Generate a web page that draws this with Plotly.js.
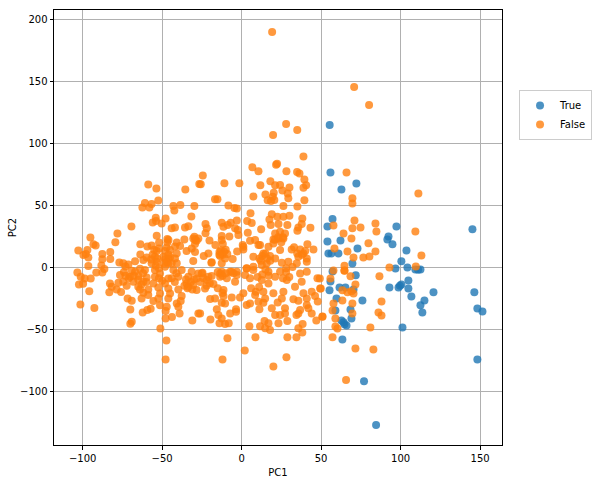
<!DOCTYPE html>
<html><head><meta charset="utf-8">
<script src="https://cdn.plot.ly/plotly-3.0.1.min.js"></script>
<style>html,body{margin:0;padding:0;background:#fff}</style></head>
<body><div id="chart" style="width:598px;height:483px"></div>
<script>
const seriesNames = ["True","False"];
const truePoints = [[55.4,114.5],[77,-92],[84.6,-127.4],[55.9,76.3],[72.2,67.4],[62.8,62.6],[57.2,38.7],[54,32.8],[97.4,32.8],[145.2,30.4],[54,20.7],[62.2,21.5],[92.4,24.7],[91.7,22.3],[94.9,18.3],[103.7,13.4],[72.9,15],[54.6,11],[56.5,11],[60.9,11],[100.5,4.6],[69.7,2.9],[96.8,-1.1],[104.3,-0.3],[109.3,-1.9],[112.5,-1.9],[111,-2.2],[57.2,-3.5],[71.8,-6.7],[55.9,-11.6],[104.9,-10.8],[93,-16.4],[98.7,-16.4],[100.5,-14],[99.6,-15],[104.9,-17.2],[55.3,-18.8],[61.6,-16.4],[65.3,-16.4],[70.4,-18],[120.7,-20.4],[146.4,-20.4],[106.8,-23.7],[59.7,-25.3],[76,-26.9],[115,-26.9],[112.5,-30.9],[148.3,-33.4],[151.5,-35.8],[113.7,-36.6],[68.5,-34.2],[59,-35],[69.1,-41.4],[62.8,-43],[64.1,-44.6],[66,-47.1],[64.7,-46.2],[63.4,-58.4],[101.2,-48.7],[148.3,-74.5]];
const falsePoints = [[19.2,189.5],[28,115.3],[35,110.5],[19.8,106.5],[70.8,145.2],[80.2,130.6],
[-58.7,66.6],[-53.6,63.4],[-35.4,62.6],[-26.6,66.9],[-52.4,53.7],[-60.8,51.6],[-62.4,48.1],[-58,48.1],[-56.6,50.8],[-42.9,49.2],[-38.5,50],[-42.3,45.7],[-29.7,49.2],[-31.6,40.8],[-54,39.8],[-47.8,39.2],[-55.9,36],[-53.8,37.2],[-50.3,35.2],[-69.3,32.8],[-78.1,27.1],[-79.4,20.1],[-95.1,23.9],[-93.2,18.3],[-91.8,17.4],[-102.7,13.4],[-97,13.7],[-99.5,9.7],[-96.4,7.8],[-98,10.5],[-87.6,10.5],[-82.6,12.1],[-87.6,6.2],[-82.6,6.4],[-76.9,3.7],[-96.4,0.8],[-88.2,1.3],[-86.3,-1.6],[-87.6,-4.3],[-91.4,-4.3],[-103.3,-4.3],[-101.2,-7.8],[-98.7,-9.2],[-94.9,-9.2],[-99.7,-13.5],[-102.3,-14],[-95.8,-19.6],[-101.4,-30.1],[-92.6,-33.1],
[-53.4,25.2],[-46.7,22.6],[-46.7,19.9],[-63.7,18.3],[-59.3,16.6],[-56.6,17.4],[-51.9,19.9],[-40.8,19.9],[-36,22.3],[-30.4,23.1],[-28.3,21.2],[-29.3,18.5],[-41.9,16.6],[-47.1,15.8],[-38.7,16.9],[-53.4,12.9],[-63.7,10.2],[-48.2,12.9],[-45,13.7],[-34.6,12.9],[-31.4,15],[-29.3,12.1],[-40.8,11],[-59.7,7.8],[-54.5,8.3],[-49.2,8.3],[-46.1,7],[-41.9,7],[-53.4,4.3],[-56.6,3],[-61.8,5.6],[-67,4.6],[-74.4,3],[-71.2,2.1],[-46.1,2.9],[-40.8,3],[-30.4,4.8],[-48.2,0.2],[-63.9,-1.4],[-73,0.5],[-67,-3.8],[-60.8,-2.4],[-54.5,-2.4],[-51.3,-5.1],[-42.9,-2.4],[-37.7,-2.4],[-31.4,-3.8],[-27.2,-5.1],[-76.5,-6.5],[-70.2,-7.8],[-64.9,-7.3],[-59.7,-8.4],[-54.5,-7.8],[-46.1,-9.2],[-39.8,-7.8],[-33.5,-7.8],[-28.3,-9.2],[-82.8,-13.2],[-77.5,-12.7],[-74.4,-11.8],[-68.1,-11.8],[-61.8,-11.8],[-55.5,-13.2],[-48.2,-13.2],[-42,-12],[-34.6,-13.2],[-30.4,-14.5],[-81.7,-15.9],[-78.6,-18],[-72.3,-15.1],[-65,-15.9],[-63.9,-18],[-58.7,-18],[-52.4,-16.4],[-46.1,-17.2],[-39.8,-18],[-33.5,-15.9],[-28.3,-18.6],[-83.2,-20.4],[-75.8,-20.2],[-61.8,-20.7],[-58.7,-22.6],[-51.3,-21.3],[-45,-21.3],[-37.7,-23.4],[-71.7,-25.3],[-69.1,-27.2],[-62.9,-25.3],[-55.5,-27.4],[-52.4,-25.3],[-46.1,-25.3],[-40.8,-29.3],[-38.3,-27.4],[-51.3,-30.7],[-47.1,-32],[-39.8,-32],[-70,-34.2],[-62.2,-36.6],[-59.3,-34.7],[-57.2,-33.6],[-47.8,-35.5],[-39,-37.4],[-27.2,-37.4],[-43.8,-40.3],[-47.8,-41.4],[-31,-43],[-69.1,-44.1],[-70,-45.7],[-51.1,-49.5],[-47.3,-59.2],[-47.8,-74.5],[-41.9,32],[-44,31.2],[-35.6,32],[-33.5,33],[-29.7,24.5],[-27.2,23],
[38.9,89.2],[22.3,83.3],[21.7,82.5],[6.8,80.4],[10.6,77.2],[28.2,77.2],[34.9,76.6],[36.4,75.5],[39.5,70.7],[18.1,69.1],[11.8,65.9],[21.1,65.9],[24.2,66.1],[30.1,64.2],[40.6,65.9],[38.9,64],[25.7,61.8],[29,59.4],[20.2,60],[15,58.6],[19.6,56.7],[7.4,57],[29.4,55.4],[20.6,54],[16.4,53.8],[18.5,53.2],[26.3,49.2],[39.5,53.8],[35.1,48.9],[-24.4,73.9],[-25.7,66.7],[-10.8,67.5],[-1.4,67.5],[-16.7,54.6],[-15.2,54.6],[-8.3,49.7],[-4.5,47.6],[-3,47.3],[5.6,43.3],[19,42.5],[17.5,38.4],[22.5,40.6],[26.3,40.6],[30.1,41.4],[38.2,39.2],[3.5,37.1],[6.4,35.5],[-22.7,34.7],[-21.9,31.2],[-22.7,27.2],[-12.5,35.8],[-11.4,32.5],[-6.8,35.8],[-3,37.6],[-8.7,33.9],[-4.1,31.2],[-2.4,29.9],[-2,25.8],[3.9,27.7],[12.3,30.4],[18.3,33.9],[23.2,34.7],[28.8,33.9],[35.7,32],[37.8,34.7],[43.3,31.7],[35.1,29.3],[21.1,27.1],[24.2,28.5],[27.3,27.1],[20,22.3],[23.2,23.1],[26.3,23.1],[-12.5,25],[-7.7,24.7],[-12.5,21.8],[-20.2,21.5],[-16.5,17.7],[-11.8,18.5],[5.3,21.2],[8.5,21.8],[11.6,17.7],[0.7,17.7],[1.1,14.2],[-2.8,12.6],[-5.6,6.5],[45.2,14.2],[41.4,18.3],[36.8,14.2],[31.5,14.2],[24.2,13.7],[16.9,16.4],[13.7,11],[17.9,8.9],[11.2,7],[7.4,8.4],[-20.9,11],[-23.8,8.9],[-18.8,3.8],[-13.9,12.4],[-11,12.4],[-13.5,8.9],[-10.4,7],[-12.5,3],[21.1,7],[35.7,8.4],[38.9,11],[29.4,4.3],[34.7,3],[41,4.3],[25.3,3.5],[15.8,2.9],[12.7,1.6],[3.2,-1.1],[7.4,0.3],[-24.6,-4.6],[-13.5,-5.1],[-6.2,-3.8],[-3,-6.4],
[-19,3.5],[-12.5,-3.8],[-7.2,-3.8],[-3,-3.8],[7.4,-2.4],[16.9,-3.8],[24.2,-3.8],[36.8,-5.1],[41,-3.8],[47.7,-9.1],[-25,-5.1],[-21.9,-10.5],[-18.8,-7.2],[-17.7,-13.7],[-13.5,-7.8],[-9.3,-9.1],[-4.1,-11.8],[2.2,-6.5],[5.3,-9.1],[12.7,-10.5],[16.9,-13.2],[21.1,-7.8],[28.4,-10.5],[33.6,-15.9],[37.8,-11.8],[-23,-17.2],[-11.4,-18.5],[-19.8,-25.8],[-16.7,-25.3],[-11.4,-23.4],[-6.2,-24.5],[1.1,-21.2],[-1,-24.5],[8.5,-22.6],[13.7,-19.9],[14.8,-25.3],[20,-21.2],[26.3,-19.9],[25.3,-25.3],[38.9,-21.2],[44.1,-19.9],[46.2,-23.4],[49.4,-17.2],[32.6,-26],[35.7,-27.1],[41,-25.3],[47.9,-27.7],[-12.5,-28.8],[-10.4,-29.3],[3.2,-30.6],[5.3,-29.3],[10.6,-28],[13.7,-28.8],[22.7,-28.5],[19,-33.3],[11.2,-34.1],[-15.6,-34.1],[27.3,-33.3],[41,-30.6],[42,-33.3],[36.8,-34.7],[44.1,-37.4],[35.7,-37.4],[50.8,-40.1],[47,-43],[34.5,-38.7],[-3.5,-34.1],[-3.5,-36],[-7.2,-37.4],[-14.6,-38.7],[-12.5,-41.4],[-26.1,-37.4],[-19.6,-42.2],[-13.9,-45.4],[-10.4,-46],[-8.1,-45.4],[4.9,-47.8],[14.4,-43.5],[16.9,-45.4],[11.6,-47.8],[14.8,-49.4],[17.9,-50.8],[23.2,-45.4],[21.1,-38.7],[24.2,-38.7],[27.3,-37.4],[28.8,-43.5],[35.7,-49.4],[38.4,-46],[38.2,-52.7],[-8.9,-57.5],[8.7,-56.7],[28.8,-56.7],[34.5,-56.7],[2,-67.2],[-12,-74.5],[28.2,-72.8],[20,-80.1],
[66,76.3],[111.2,59.4],[69.7,55.4],[69.7,51.3],[71,37.6],[57.8,33.6],[69.7,31.2],[74.8,32],[84.2,35.2],[84.8,28.7],[109.3,28.7],[64.1,27.1],[69.1,23.1],[79.8,19.1],[58.4,15],[66.6,12.6],[84.2,12.6],[113.1,9.4],[70.4,7.8],[76.6,7.8],[80.4,8.6],[93,-0.3],[109.6,0.5],[64.7,1.1],[64.7,-2.7],[64.7,-3],[57.8,-2.7],[68.5,-7.5],[86.7,-7.5],[55.9,-9.2],[49.2,-9.2],[71.6,-14],[49.8,-17.2],[63.4,-18.8],[66.6,-20.4],[69.1,-19.6],[70.4,-21.3],[63.4,-26.9],[57.8,-29.3],[69.7,-29.3],[88,-27.7],[57.2,-35],[86.1,-36.6],[88,-39],[69.7,-37.4],[50.9,-39.8],[59,-41.4],[59,-47.9],[60.3,-49.5],[81,-48.7],[57.2,-56.7],[71.6,-65.6],[82.9,-66.4],[65.7,-91],
[-13,13.5],[-10,14],[-12,10],[-9,10.5],[-14,10],[13,9],[16,7],[15,11],[18,5],[12,5],[21,22],[25,20],[23,24],[20,19],[26,24],[35,11],[38,10],[33,16],[40,13],[41,7],[-15,-4],[-12,-7],[-10,-5],[-5.1,-5],[13,-6],[17,-7],[15,-2],[10,-8],[6,-17],[9,-20],[11,-16],[-24,-9],[-20,-13],[-22,-15],[-26,-12],[28,-4],[30,-8],[26,-9],[-15,-17],[-12,-21],[1.1,16.4],[10.6,17.7],[32,0],[28,-1],[3.2,-1],
[-47,4],[-45,8],[-48,6.5],[-44,3],[-46,10],[-49,3],[-53,7],[-57,6],[-54,1],[-52,-1],[-56,10],[-55,14],[-52,15],[-74,-4],[-71,-9],[-73,-7],[-69,-3],[-68,-7],[-62,-5],[-65,-10],[-60,-12],[-63,-14],[-44,-9],[-41,-5],[-35,-10],[-32,-12],[-36,-15],[-30,-10],[-34,-17],[-31,-18],[-50,-11],[-52,-9],[-20.9,-7.8],[-29.2,21.8],[-46,21.8]];
const xTicks = [-100,-50,0,50,100,150];
const yTicks = [-100,-50,0,50,100,150,200];
const xLabels = ["\u2212100","\u221250","0","50","100","150"];
const yLabels = ["\u2212100","\u221250","0","50","100","150","200"];
const colors = ["#1f77b4","#ff7f0e"];
const mk = (name,pts,c)=>({type:"scatter",mode:"markers",name,x:pts.map(p=>p[0]),y:pts.map(p=>p[1]),
  marker:{color:c,size:8,opacity:0.8,line:{width:0}}});
const axis = (text,vals,labs,range,standoff)=>({title:{text,font:{size:10,color:"#000"},standoff},range,tickmode:"array",tickvals:vals,ticktext:labs,
  ticks:"outside",ticklen:3.5,tickwidth:1,tickcolor:"#000",tickfont:{size:10,color:"#000"},showgrid:true,gridcolor:"#b0b0b0",gridwidth:1,
  zeroline:false,showline:true,mirror:true,linecolor:"#000",linewidth:1,automargin:false});
Plotly.newPlot("chart",[mk(seriesNames[0],truePoints,colors[0]),mk(seriesNames[1],falsePoints,colors[1])],{
  width:598,height:483,paper_bgcolor:"#fff",plot_bgcolor:"#fff",
  font:{family:"DejaVu Sans",size:10,color:"#000"},
  margin:{l:54,r:96,t:10,b:38,pad:0,autoexpand:false},
  xaxis:axis("PC1",xTicks,xLabels,[-118,163.8],6),
  yaxis:axis("PC2",yTicks,yLabels,[-143.5,207.3],1),
  showlegend:true,
  legend:{x:1.038,y:0.816,xanchor:"left",yanchor:"top",bgcolor:"#fff",bordercolor:"#ccc",borderwidth:1,font:{size:10,color:"#000"},tracegroupgap:0}
},{displayModeBar:false,responsive:false});
</script></body></html>
